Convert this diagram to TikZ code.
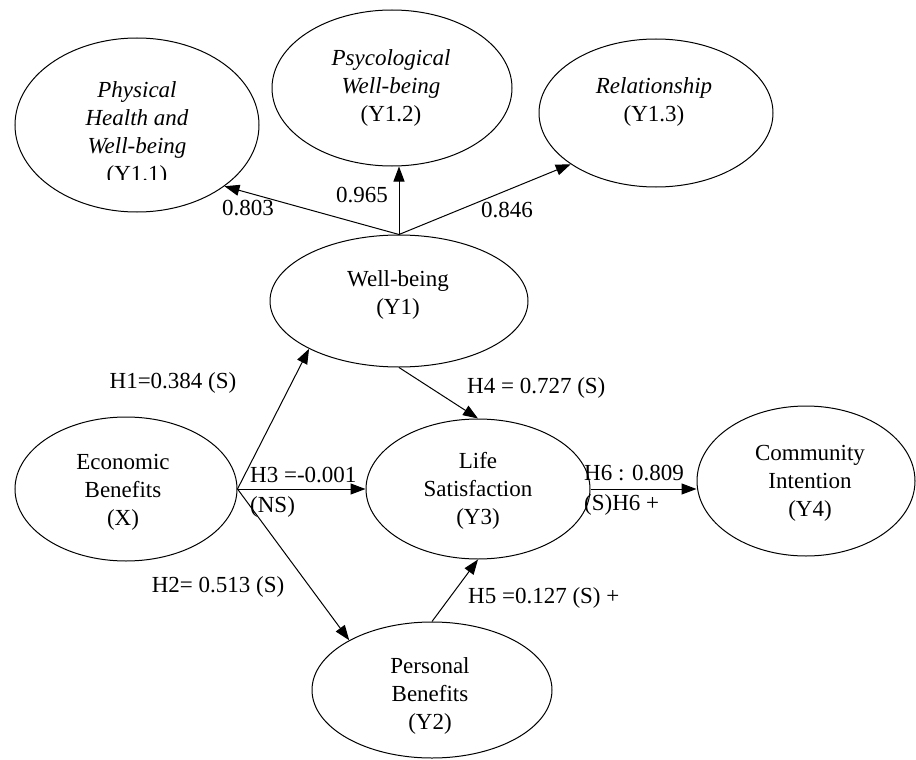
\documentclass[tikz,border=0pt]{standalone}
\usepackage{fontspec}
\setmainfont{Liberation Serif}
\usetikzlibrary{shapes.geometric,arrows.meta}
\begin{document}
\begin{tikzpicture}[x=1pt,y=-1pt,
  ell/.style={draw,ellipse,line width=1pt,inner sep=0pt},
  txt/.style={align=center,inner sep=0pt,font=\fontsize{23}{28}\selectfont},
  lbl/.style={inner sep=0pt,font=\fontsize{23}{30}\selectfont},
  arr/.style={line width=1pt,-{Triangle[length=15pt,width=11pt]}},
  ln/.style={line width=1pt}]
\useasboundingbox (0,0) rectangle (916,760);
% ellipses
\node[ell,minimum width=244pt,minimum height=174pt] (Y11) at (137,125) {};
\node[ell,minimum width=240pt,minimum height=156pt] (Y12) at (392,88) {};
\node[ell,minimum width=234pt,minimum height=148pt] (Y13) at (656,113) {};
\node[ell,minimum width=258pt,minimum height=132pt] (Y1) at (399,301) {};
\node[ell,minimum width=222pt,minimum height=144pt] (X) at (126,489) {};
\node[ell,minimum width=224pt,minimum height=140pt] (Y3) at (478,489) {};
\node[ell,minimum width=218pt,minimum height=150pt] (Y4) at (806,481) {};
\node[ell,minimum width=240pt,minimum height=136pt] (Y2) at (432,690) {};
% texts
\begin{scope}
\clip (0,0) rectangle (916,179);
\node[txt] (t11) at (137,134) {\textit{Physical}\\\textit{Health and}\\\textit{Well-being}\\(Y1.1)};
\end{scope}
\node[txt] (t12) at (391,88) {\textit{Psycological}\\\textit{Well-being}\\(Y1.2)};
\node[txt] (t13) at (654,102) {\textit{Relationship}\\(Y1.3)};
\node[txt] (t1) at (398,295) {Well-being\\(Y1)};
\node[txt] (tx) at (123,492) {Economic\\Benefits\\(X)};
\node[txt] (t3) at (478,491) {Life\\Satisfaction\\(Y3)};
\node[txt] (t4) at (810,483) {Community\\Intention\\(Y4)};
\node[txt] (t2) at (430,696) {Personal\\Benefits\\(Y2)};
% connectors
\draw[arr] (Y1.north) -- (Y11.-35);
\draw[arr] (Y1.north) -- (Y1.north |- Y12.south);
\draw[arr] (Y1.north) -- (Y13.211);
\draw[arr] (X.east) -- (Y1.208);
\draw[arr] (X.east) -- (Y3.west);
\draw[arr] (X.east) -- (Y2.149);
\draw[arr] (Y1.south) -- (Y3.north);
\draw[arr] (Y2.north) -- (Y3.south);
\draw[arr] (Y3.east) -- (Y3.east -| Y4.west);
% labels
\node[lbl] (l803) at (248,208) {0.803};
\node[lbl] (l965) at (362,195) {0.965};
\node[lbl] (l846) at (507,210) {0.846};
\node[lbl] (lh1) at (173,383) {H1=0.384 (S)};
\node[lbl,align=left,anchor=west] (lh3) at (250,492) {H3 =-0.001\\(NS)};
\node[lbl] (lh2) at (218,587) {H2= 0.513 (S)};
\node[lbl,anchor=west] (lh4) at (467,388) {H4 = 0.727 (S)};
\node[lbl,anchor=west] (lh5) at (468,598) {H5 =0.127 (S) +};
\node[lbl,align=left,anchor=west] (lh6) at (584,490) {H6 : 0.809\\(S)H6 +};
\end{tikzpicture}
\end{document}
